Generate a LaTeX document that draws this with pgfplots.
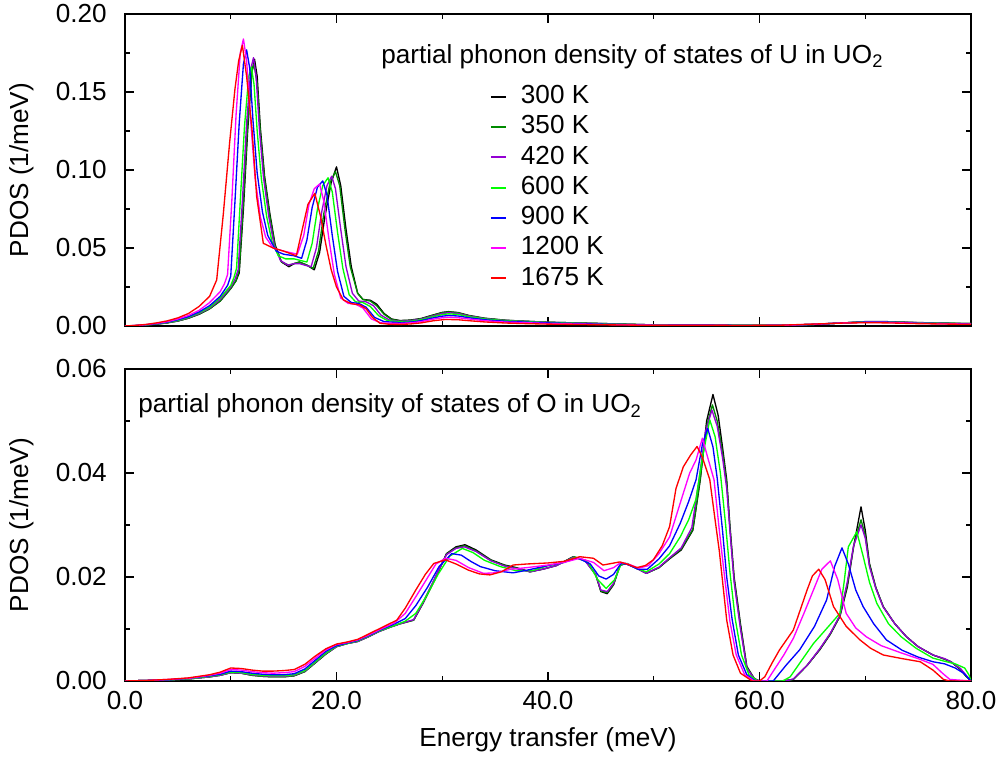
\documentclass[border=0pt]{standalone}
\usepackage{fontspec}
\setmainfont{Liberation Sans}
\usepackage{pgfplots}
\pgfplotsset{compat=1.18}
\newcommand{\F}{\fontsize{19.6}{23.5}\selectfont}
\definecolor{c300}{RGB}{0,0,0}
\definecolor{c350}{RGB}{0,139,0}
\definecolor{c420}{RGB}{148,0,211}
\definecolor{c600}{RGB}{0,255,0}
\definecolor{c900}{RGB}{0,0,255}
\definecolor{c1200}{RGB}{255,0,255}
\definecolor{c1675}{RGB}{255,0,0}
\pgfplotsset{
  common/.style={
    scale only axis, width=634.5pt, height=234pt, anchor=south west,
    xmin=0, xmax=80, xtick={0,20,40,60,80}, minor x tick num=1,
    axis line style={line width=1.1pt},
    major tick length=6.5pt, minor tick length=3.5pt,
    every tick/.style={line width=0.9pt, black},
    tick align=inside,
    /pgf/number format/assume math mode=true,
    tick label style={font=\F},
    label style={font=\F},
    scaled y ticks=false,
    yticklabel style={inner sep=0pt, xshift=-13.5pt, /pgf/number format/.cd, fixed, fixed zerofill, precision=2},
    xticklabel style={inner sep=0pt, yshift=-7.5pt, /pgf/number format/.cd, fixed, fixed zerofill, precision=1},
    ylabel={PDOS (1/meV)},
    ylabel style={at={(axis description cs:-0.1217,0.5)}, anchor=center},
    every axis plot/.append style={line width=1pt, line join=round},
  }
}
\begin{document}
\begin{tikzpicture}
\useasboundingbox (0,0) rectangle (750.75pt,569.25pt);
% ---------------- top panel ----------------
\begin{axis}[common, at={(93.75pt,324.75pt)},
  ymin=0, ymax=0.20, ytick={0,0.05,0.10,0.15,0.20}, minor y tick num=1,
  xticklabels={},
  legend style={at={(axis description cs:0.4314,0.773)}, anchor=north west,
    draw=none, fill=none, inner sep=0pt, outer sep=0pt, font=\F, row sep=4.7pt,
    nodes={inner sep=0pt, text height=14pt, text depth=4pt}},
  legend cell align=left,
  legend image code/.code={\draw[#1, line width=1.5pt] (0pt,0pt) -- (11pt,0pt); \path (22pt,0pt);},
]
\addplot[c300] coordinates {(0,0) (1,0.0002) (2,0.0006) (3,0.0012) (4,0.002) (5,0.0032) (6,0.005) (7,0.0075) (8,0.011) (9,0.016) (10,0.024) (10.5,0.029) (10.8,0.034) (11.2,0.075) (11.6,0.125) (12.0,0.163) (12.25,0.171) (12.5,0.160) (12.8,0.127) (13.2,0.096) (13.7,0.072) (14.2,0.052) (14.8,0.041) (15.5,0.038) (16.0,0.040) (16.5,0.041) (17.2,0.039) (17.9,0.036) (18.4,0.047) (18.9,0.070) (19.5,0.092) (20.0,0.102) (20.4,0.090) (20.9,0.062) (21.4,0.038) (22.0,0.021) (22.5,0.017) (23.2,0.0165) (23.8,0.014) (24.5,0.008) (25.2,0.0045) (26,0.0035) (27,0.0038) (28,0.0048) (29,0.0068) (30,0.0087) (30.6,0.0092) (31.5,0.0086) (32.5,0.0068) (34,0.005) (36,0.0037) (38,0.003) (40,0.0024) (45,0.0016) (50,0.0007) (55,0.0008) (58,0.0004) (62,0.0004) (65,0.001) (68,0.002) (70,0.0028) (72,0.0028) (75,0.0022) (78,0.0018) (80,0.0015)};
\addlegendentry{300 K}
\addplot[c350] coordinates {(0,0) (1,0.0002) (2,0.0006) (3,0.0012) (4,0.002) (5,0.0032) (6,0.005) (7,0.0076) (8,0.011) (9,0.016) (10,0.024) (10.5,0.029) (10.8,0.036) (11.2,0.08) (11.6,0.13) (12.0,0.163) (12.2,0.168) (12.5,0.155) (12.8,0.124) (13.2,0.094) (13.7,0.070) (14.2,0.051) (14.8,0.041) (15.5,0.039) (16.0,0.040) (16.5,0.041) (17.2,0.039) (17.8,0.037) (18.3,0.048) (18.8,0.072) (19.4,0.092) (19.9,0.099) (20.3,0.090) (20.8,0.062) (21.3,0.038) (22.0,0.021) (22.5,0.017) (23.2,0.016) (23.8,0.013) (24.5,0.0075) (25.2,0.0042) (26,0.0033) (27,0.0036) (28,0.0046) (29,0.0066) (30,0.0085) (30.6,0.009) (31.5,0.0084) (32.5,0.0066) (34,0.0049) (36,0.0036) (38,0.003) (40,0.0024) (45,0.0016) (50,0.0007) (55,0.0008) (58,0.0004) (62,0.0004) (65,0.001) (68,0.002) (70,0.0027) (72,0.0027) (75,0.0021) (78,0.0017) (80,0.0015)};
\addlegendentry{350 K}
\addplot[c420] coordinates {(0,0) (1,0.0002) (2,0.0007) (3,0.0013) (4,0.0022) (5,0.0034) (6,0.0053) (7,0.008) (8,0.0115) (9,0.017) (10,0.025) (10.4,0.030) (10.7,0.036) (11.1,0.08) (11.5,0.13) (11.9,0.165) (12.15,0.172) (12.4,0.160) (12.7,0.127) (13.1,0.095) (13.6,0.070) (14.1,0.052) (14.7,0.042) (15.4,0.039) (16.0,0.040) (16.5,0.040) (17.0,0.039) (17.6,0.038) (18.1,0.050) (18.6,0.073) (19.1,0.090) (19.55,0.096) (19.9,0.088) (20.4,0.062) (20.9,0.038) (21.5,0.021) (22.1,0.016) (22.8,0.0155) (23.5,0.013) (24.2,0.007) (25,0.0038) (26,0.003) (27,0.0034) (28,0.0044) (29,0.0062) (30,0.0080) (30.6,0.0085) (31.5,0.008) (32.5,0.0064) (34,0.0047) (36,0.0035) (38,0.0029) (40,0.0023) (45,0.0015) (50,0.0007) (55,0.0007) (58,0.0004) (62,0.0004) (65,0.001) (68,0.002) (70,0.0027) (72,0.0027) (75,0.0021) (78,0.0017) (80,0.0015)};
\addlegendentry{420 K}
\addplot[c600] coordinates {(0,0) (1,0.0002) (2,0.0007) (3,0.0014) (4,0.0023) (5,0.0036) (6,0.0056) (7,0.0085) (8,0.012) (9,0.018) (10,0.026) (10.3,0.031) (10.55,0.037) (10.9,0.08) (11.3,0.128) (11.7,0.160) (11.95,0.166) (12.2,0.155) (12.5,0.125) (12.9,0.094) (13.4,0.070) (13.9,0.054) (14.5,0.045) (15.2,0.043) (16.0,0.043) (16.6,0.042) (17.2,0.041) (17.7,0.053) (18.2,0.075) (18.7,0.090) (19.2,0.095) (19.6,0.086) (20.1,0.060) (20.6,0.037) (21.2,0.020) (21.8,0.0155) (22.5,0.015) (23.2,0.0125) (24.0,0.0065) (24.8,0.0035) (26,0.0027) (27,0.003) (28,0.004) (29,0.0057) (30,0.0073) (30.6,0.0078) (31.5,0.0074) (32.5,0.006) (34,0.0045) (36,0.0034) (38,0.0028) (40,0.0022) (45,0.0014) (50,0.0006) (55,0.0006) (58,0.0004) (62,0.0004) (65,0.001) (68,0.002) (70,0.0026) (72,0.0026) (75,0.002) (78,0.0017) (80,0.0015)};
\addlegendentry{600 K}
\addplot[c900] coordinates {(0,0) (1,0.0003) (2,0.0008) (3,0.0015) (4,0.0025) (5,0.004) (6,0.006) (7,0.009) (8,0.013) (9,0.019) (9.7,0.026) (10.0,0.032) (10.4,0.08) (10.8,0.13) (11.2,0.168) (11.5,0.177) (11.8,0.165) (12.1,0.132) (12.5,0.098) (13.0,0.073) (13.5,0.058) (14.3,0.048) (15.0,0.046) (16.0,0.045) (16.7,0.0434) (17.2,0.055) (17.7,0.076) (18.2,0.089) (18.7,0.093) (19.1,0.084) (19.6,0.058) (20.1,0.035) (20.7,0.019) (21.4,0.015) (22.1,0.0145) (22.8,0.012) (23.6,0.0055) (24.5,0.0028) (26,0.0022) (27,0.0025) (28,0.0034) (29,0.005) (30,0.0063) (30.6,0.0067) (31.5,0.0064) (32.5,0.0053) (34,0.004) (36,0.003) (38,0.0025) (40,0.002) (45,0.0012) (50,0.0005) (55,0.0006) (58,0.0003) (62,0.0004) (65,0.001) (68,0.002) (70,0.0025) (72,0.0025) (75,0.0018) (78,0.0015) (80,0.0013)};
\addlegendentry{900 K}
\addplot[c1200] coordinates {(0,0) (1,0.0003) (2,0.0009) (3,0.0017) (4,0.0028) (5,0.0045) (6,0.0068) (7,0.010) (8,0.015) (9,0.022) (9.4,0.027) (9.7,0.033) (10.1,0.08) (10.5,0.135) (10.9,0.175) (11.2,0.184) (11.5,0.170) (11.9,0.130) (12.3,0.095) (12.8,0.070) (13.3,0.057) (14.0,0.050) (15.0,0.048) (16.3,0.046) (16.9,0.058) (17.4,0.078) (17.9,0.088) (18.4,0.091) (18.8,0.080) (19.3,0.055) (19.8,0.033) (20.4,0.018) (21.1,0.0145) (21.8,0.014) (22.5,0.0115) (23.3,0.0045) (24.2,0.002) (26,0.0016) (27,0.002) (28,0.0028) (29,0.0042) (30,0.0053) (30.6,0.0056) (31.5,0.0053) (32.5,0.0045) (34,0.0034) (36,0.0025) (38,0.0021) (40,0.0016) (45,0.001) (50,0.0005) (55,0.0005) (58,0.0003) (62,0.0004) (65,0.0011) (68,0.002) (70,0.0023) (72,0.0023) (75,0.0017) (78,0.0014) (80,0.0012)};
\addlegendentry{1200 K}
\addplot[c1675] coordinates {(0,0) (1,0.0004) (2,0.001) (3,0.002) (4,0.0033) (5,0.0052) (6,0.008) (7,0.0125) (8,0.019) (8.67,0.0295) (9.3,0.072) (9.9,0.118) (10.4,0.152) (10.75,0.170) (11.1,0.180) (11.5,0.160) (12.0,0.127) (12.45,0.083) (13.08,0.053) (14.0,0.050) (15.0,0.048) (16.2,0.045) (16.7,0.060) (17.3,0.078) (17.95,0.085) (18.5,0.070) (19.0,0.052) (19.5,0.036) (20.0,0.025) (20.65,0.0167) (21.4,0.0143) (22.2,0.0135) (22.8,0.011) (23.4,0.0055) (24.1,0.0018) (25,0.0011) (26,0.001) (27,0.0013) (28,0.002) (29.2,0.0034) (30.3,0.0042) (31.5,0.004) (32.5,0.0034) (34,0.0026) (36,0.0019) (38,0.0015) (40,0.0012) (45,0.0008) (50,0.0004) (55,0.0005) (58,0.0003) (62,0.0005) (65,0.0012) (68,0.0019) (70,0.0021) (72,0.002) (75,0.0015) (78,0.0012) (80,0.0011)};
\addlegendentry{1675 K}
\node[anchor=west, font=\F, inner sep=0pt] at (axis description cs:0.3026,0.862) {partial phonon density of states of U in UO\textsubscript{2}};
\end{axis}
% ---------------- bottom panel ----------------
\begin{axis}[common, at={(93.75pt,58.5pt)},
  ymin=0, ymax=0.06, ytick={0,0.02,0.04,0.06}, minor y tick num=1,
  xlabel={Energy transfer (meV)},
  xlabel style={at={(axis description cs:0.5,-0.1891)}, anchor=center},
]
\addplot[c300] coordinates {(0,0) (2,0.0001) (4,0.0002) (6,0.0004) (8,0.0008) (9,0.0011) (10,0.0016) (11,0.0015) (12,0.0011) (13,0.0009) (14,0.0008) (15,0.0008) (16,0.001) (17,0.0018) (18,0.0035) (19,0.0052) (20,0.0066) (21,0.0072) (22,0.0076) (23,0.0085) (24,0.0095) (25,0.0103) (26,0.011) (27.3,0.0117) (28.2,0.015) (29.3,0.0195) (30.4,0.0245) (31.3,0.0258) (32.15,0.0262) (33.2,0.0252) (34.6,0.0233) (35.9,0.0223) (37,0.0218) (38.3,0.021) (39.5,0.0215) (40.8,0.0222) (42.4,0.0239) (43.5,0.0232) (44.5,0.0205) (45.0,0.0172) (45.6,0.0168) (46.2,0.0185) (46.8,0.0222) (47.3,0.0226) (48.3,0.0218) (49.3,0.0207) (50.5,0.0218) (51.5,0.0235) (52.6,0.0252) (53.7,0.029) (54.4,0.0387) (55.0,0.050) (55.6,0.0551) (56.1,0.051) (56.5,0.045) (56.9,0.0387) (57.2,0.030) (57.6,0.020) (58.2,0.011) (58.8,0.0028) (59.5,0.0005) (60,0) (61,0) (62,0) (63.2,0.0003) (64.5,0.003) (65.7,0.006) (66.7,0.009) (67.6,0.0124) (68.3,0.018) (68.9,0.0258) (69.6,0.0335) (70.0,0.029) (70.4,0.0226) (71.0,0.018) (71.7,0.0143) (72.8,0.011) (73.9,0.0085) (75,0.0066) (76.4,0.005) (77.5,0.0042) (78.1,0.0037) (79,0.0022) (79.5,0.001) (80,0)};
\addplot[c350] coordinates {(0,0) (2,0.0001) (4,0.0002) (6,0.0004) (8,0.0008) (9,0.0011) (10,0.0016) (11,0.0015) (12,0.0011) (13,0.0009) (14,0.0008) (15,0.0008) (16,0.001) (17,0.0018) (18,0.0035) (19,0.0052) (20,0.0066) (21,0.0072) (22,0.0076) (23,0.0085) (24,0.0095) (25,0.0103) (26,0.011) (27.3,0.0117) (28.2,0.0152) (29.3,0.0197) (30.4,0.0244) (31.3,0.0256) (32.1,0.026) (33.2,0.025) (34.6,0.0232) (35.9,0.0222) (37,0.0217) (38.3,0.021) (39.5,0.0215) (40.8,0.0222) (42.4,0.0239) (43.5,0.0232) (44.5,0.0205) (45.0,0.0173) (45.6,0.017) (46.2,0.0186) (46.8,0.0222) (47.3,0.0226) (48.3,0.0218) (49.3,0.0207) (50.5,0.0218) (51.5,0.0236) (52.6,0.0254) (53.7,0.0292) (54.4,0.039) (55.0,0.049) (55.55,0.0531) (56.0,0.050) (56.5,0.044) (56.9,0.038) (57.2,0.0295) (57.6,0.0195) (58.2,0.0105) (58.8,0.0026) (59.5,0.0004) (60,0) (62.5,0) (63.2,0.0003) (64.5,0.003) (65.7,0.0061) (66.7,0.0091) (67.6,0.0125) (68.3,0.0185) (68.9,0.026) (69.6,0.031) (70.0,0.028) (70.4,0.0223) (71.0,0.0179) (71.7,0.0143) (72.8,0.011) (73.9,0.0085) (75,0.0066) (76.4,0.005) (77.5,0.0042) (78.1,0.0037) (79,0.0023) (79.5,0.001) (80,0)};
\addplot[c420] coordinates {(0,0) (2,0.0001) (4,0.0002) (6,0.0004) (8,0.0008) (9,0.0011) (10,0.0016) (11,0.0015) (12,0.0012) (13,0.001) (14,0.0009) (15,0.0009) (16,0.0011) (17,0.0019) (18,0.0036) (19,0.0053) (20,0.0066) (21,0.0072) (22,0.0076) (23,0.0085) (24,0.0095) (25,0.0103) (26,0.011) (27.3,0.0118) (28.3,0.0155) (29.3,0.0198) (30.4,0.0243) (31.3,0.0255) (32.1,0.0258) (33.2,0.0249) (34.6,0.0231) (35.9,0.0221) (37,0.0216) (38.3,0.021) (39.5,0.0215) (40.8,0.0222) (42.4,0.0238) (43.5,0.0231) (44.5,0.0205) (45.0,0.0175) (45.6,0.0172) (46.2,0.0188) (46.8,0.0222) (47.3,0.0226) (48.3,0.0217) (49.3,0.0207) (50.5,0.0219) (51.5,0.0237) (52.6,0.0256) (53.6,0.0295) (54.3,0.039) (54.9,0.048) (55.5,0.0521) (56.0,0.049) (56.5,0.043) (56.9,0.037) (57.2,0.029) (57.6,0.019) (58.2,0.010) (58.8,0.0025) (59.5,0.0004) (60,0) (62.5,0) (63.2,0.0004) (64.5,0.003) (65.7,0.0062) (66.7,0.0092) (67.6,0.0126) (68.3,0.019) (68.9,0.026) (69.6,0.030) (70.0,0.0275) (70.4,0.022) (71.0,0.0178) (71.7,0.0142) (72.8,0.011) (73.9,0.0085) (75,0.0066) (76.4,0.005) (77.5,0.0043) (78.1,0.0037) (79,0.0024) (79.5,0.0012) (80,0)};
\addplot[c600] coordinates {(0,0) (2,0.0001) (4,0.0002) (6,0.0004) (8,0.0009) (9,0.0012) (10,0.0017) (11,0.0016) (12,0.0013) (13,0.0011) (14,0.001) (15,0.001) (16,0.0012) (17,0.002) (18,0.0037) (19,0.0054) (20,0.0067) (21,0.0072) (22,0.0077) (23,0.0086) (24,0.0096) (25.5,0.0107) (26.5,0.0115) (27.5,0.013) (28.5,0.0163) (29.6,0.0205) (30.7,0.024) (31.9,0.0255) (32.9,0.0247) (34,0.0232) (35.5,0.022) (37,0.0212) (38.5,0.0212) (40,0.0222) (41.5,0.0228) (42.6,0.0238) (43.8,0.0228) (44.7,0.0195) (45.5,0.0178) (46.3,0.0195) (46.9,0.0224) (47.5,0.0226) (48.4,0.0216) (49.3,0.021) (50.5,0.0225) (51.5,0.0245) (52.5,0.0277) (53.3,0.031) (54.0,0.035) (54.6,0.043) (55.3,0.0502) (55.8,0.047) (56.3,0.040) (56.8,0.030) (57.2,0.021) (57.7,0.012) (58.3,0.005) (59.0,0.0012) (59.8,0) (62.2,0) (62.9,0.0008) (64.0,0.004) (65.1,0.0072) (66.4,0.0102) (67.6,0.013) (68.0,0.019) (68.4,0.0258) (69.2,0.0287) (69.8,0.024) (70.4,0.019) (71.1,0.0149) (72.2,0.011) (73.4,0.0085) (74.8,0.0063) (76.4,0.0044) (77.5,0.0038) (78.5,0.0033) (79.4,0.0025) (79.8,0.0012) (80,0)};
\addplot[c900] coordinates {(0,0) (2,0.0001) (4,0.0002) (6,0.0005) (8,0.001) (9,0.0013) (10,0.0019) (11,0.0018) (12,0.0015) (13,0.0013) (14,0.0012) (15,0.0012) (16,0.0014) (17,0.0023) (18,0.004) (19,0.0057) (20,0.0068) (21,0.0073) (22,0.0078) (23,0.0087) (24,0.0097) (25.5,0.011) (26.5,0.012) (27.5,0.0145) (28.6,0.018) (29.7,0.022) (30.9,0.0245) (31.8,0.0242) (32.7,0.023) (33.6,0.022) (35,0.0212) (36.7,0.0208) (38,0.0213) (40,0.0222) (41.5,0.0228) (42.8,0.0237) (44.0,0.0225) (44.8,0.0202) (45.5,0.0196) (46.2,0.0205) (46.9,0.0226) (47.6,0.0224) (48.5,0.0215) (49.4,0.0215) (50.5,0.0235) (51.5,0.026) (52.5,0.0303) (53.3,0.0345) (54.0,0.0387) (54.6,0.0455) (55.1,0.0486) (55.6,0.045) (56.0,0.039) (56.5,0.029) (56.9,0.020) (57.4,0.012) (58.0,0.005) (58.8,0.0012) (59.6,0) (61.3,0) (62.5,0.003) (63.8,0.006) (65.2,0.0105) (66.35,0.0156) (67.1,0.022) (67.8,0.0256) (68.4,0.0225) (69.1,0.0175) (69.8,0.0143) (70.8,0.011) (72.0,0.0079) (73.5,0.0059) (75,0.0046) (76.4,0.0037) (77.5,0.0033) (78.5,0.0025) (79.3,0.0015) (80,0)};
\addplot[c1200] coordinates {(0,0) (2,0.0001) (4,0.0003) (6,0.0005) (8,0.0011) (9,0.0015) (10,0.0022) (11,0.0021) (12,0.0018) (13,0.0016) (14,0.0015) (15,0.0016) (16,0.0018) (17,0.0028) (18,0.0044) (19,0.006) (20,0.007) (21,0.0074) (22,0.0079) (23,0.0088) (24,0.0098) (25.5,0.0112) (26.5,0.013) (27.5,0.0162) (28.5,0.0195) (29.4,0.0225) (30.3,0.0236) (31.3,0.0232) (32.5,0.0218) (33.9,0.0207) (35,0.0208) (36.5,0.0215) (38,0.0218) (40,0.0223) (41.5,0.0228) (43.0,0.0236) (44.3,0.0228) (45.3,0.0212) (46.2,0.0218) (46.9,0.0228) (47.7,0.0224) (48.6,0.0217) (49.5,0.0222) (50.5,0.0245) (51.5,0.0277) (52.5,0.0342) (53.4,0.040) (54.0,0.0425) (54.6,0.0467) (55.1,0.043) (55.7,0.0387) (56.2,0.029) (56.7,0.020) (57.2,0.0115) (57.8,0.005) (58.6,0.0012) (59.5,0) (60.7,0) (61.5,0.0025) (62.3,0.005) (63.2,0.0082) (64.2,0.013) (65.1,0.0175) (65.9,0.0215) (66.7,0.0231) (67.4,0.0195) (68.2,0.013) (69.1,0.0102) (70.1,0.0085) (71.5,0.0068) (73.4,0.0054) (75,0.0043) (76.4,0.0032) (77.3,0.0015) (78,0.0003) (80,0)};
\addplot[c1675] coordinates {(0,0) (2,0.0001) (4,0.0003) (6,0.0006) (8,0.0012) (9,0.0017) (10,0.0025) (11,0.0024) (12,0.0021) (13,0.0019) (14,0.0019) (15,0.002) (16,0.0022) (17,0.0032) (18,0.0048) (19,0.0062) (20,0.0071) (21,0.0075) (22,0.008) (23,0.009) (24.1,0.0101) (25.7,0.0117) (26.5,0.014) (27.5,0.0175) (28.4,0.0205) (29.2,0.0226) (30.3,0.0233) (31.3,0.0225) (32.5,0.0213) (33.5,0.0206) (34.5,0.0204) (35.6,0.021) (36.7,0.0223) (38,0.0225) (40,0.0227) (41.5,0.023) (43.0,0.0239) (44.3,0.0236) (45.2,0.0223) (46.0,0.0226) (46.8,0.0229) (47.6,0.0224) (48.4,0.0218) (49.2,0.0222) (49.96,0.0233) (50.8,0.026) (51.5,0.0297) (52.1,0.037) (52.8,0.0412) (53.5,0.0435) (54.1,0.0451) (54.6,0.043) (55.3,0.0387) (55.8,0.031) (56.2,0.025) (56.9,0.0117) (57.5,0.005) (58.2,0.0015) (59.3,0) (60,0) (60.5,0.0008) (61.2,0.0035) (61.9,0.006) (63.2,0.0098) (64.5,0.0175) (65.0,0.0202) (65.6,0.0215) (66.2,0.0195) (67.0,0.0143) (68.2,0.0105) (69.5,0.0079) (70.5,0.0063) (71.7,0.005) (73.5,0.0043) (75.2,0.0037) (76.4,0.0021) (77.4,0.0003) (78,0) (80,0)};
\node[anchor=west, font=\F, inner sep=0pt] at (axis description cs:0.0154,0.881) {partial phonon density of states of O in UO\textsubscript{2}};
\end{axis}
\end{tikzpicture}
\end{document}
